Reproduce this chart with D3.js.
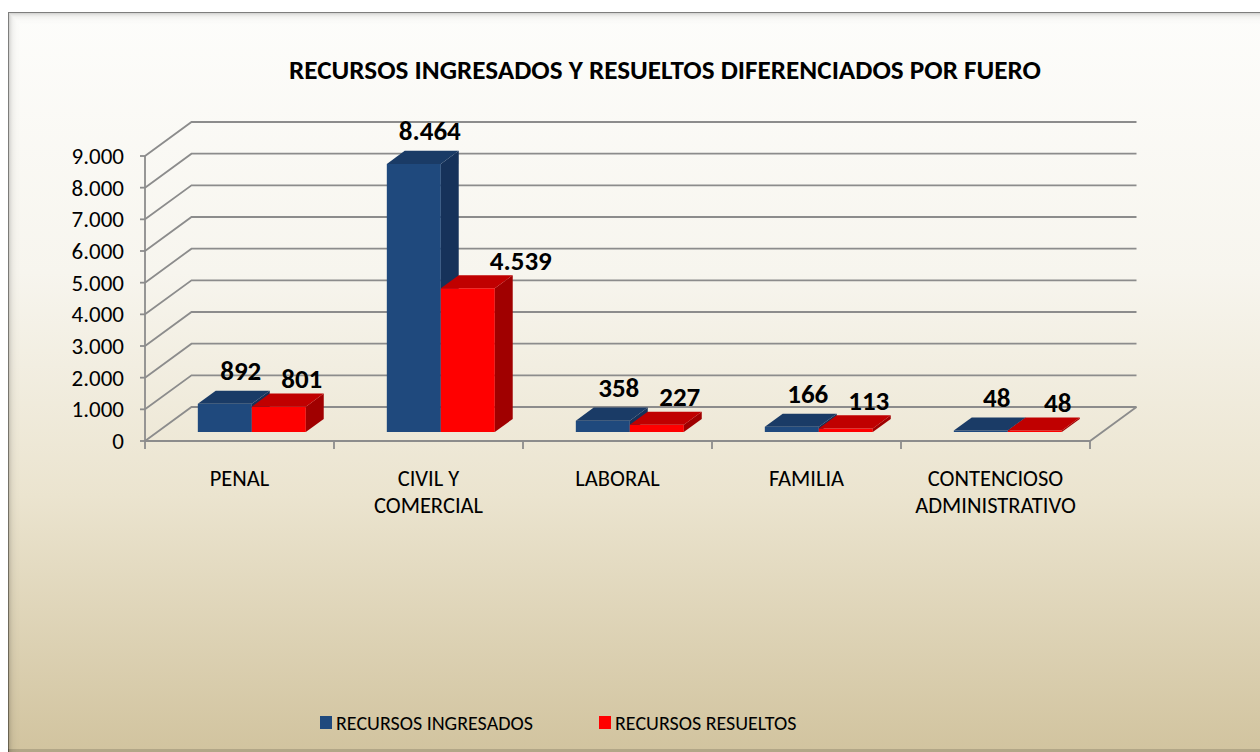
<!DOCTYPE html>
<html>
<head>
<meta charset="utf-8">
<script src="https://cdn.jsdelivr.net/npm/d3@7"></script>
<style>
  html, body { margin: 0; padding: 0; background: #fff; }
  svg { display: block; }
  text { font-family: Carlito, Lato, "Open Sans", sans-serif; fill: #000; }
</style>
</head>
<body>
<svg id="chart"></svg>
<script>
const categories = [["PENAL"], ["CIVIL Y", "COMERCIAL"], ["LABORAL"], ["FAMILIA"], ["CONTENCIOSO", "ADMINISTRATIVO"]];
const seriesNames = ["RECURSOS INGRESADOS", "RECURSOS RESUELTOS"];
const ingresados = [892, 8464, 358, 166, 48];
const resueltos = [801, 4539, 227, 113, 48];
const yTicks = [0, 1000, 2000, 3000, 4000, 5000, 6000, 7000, 8000, 9000];
const title = "RECURSOS INGRESADOS Y RESUELTOS DIFERENCIADOS POR FUERO";

const W = 1260, H = 752;
const svg = d3.select('#chart').attr('width', W).attr('height', H);
const defs = svg.append('defs');

// background gradient
const bg = defs.append('linearGradient').attr('id', 'bg').attr('x1', 0).attr('y1', 0).attr('x2', 0).attr('y2', 1);
bg.append('stop').attr('offset', '0%').attr('stop-color', '#fdfdfb');
bg.append('stop').attr('offset', '35%').attr('stop-color', '#f7f5ee');
bg.append('stop').attr('offset', '65%').attr('stop-color', '#ebe4cf');
bg.append('stop').attr('offset', '100%').attr('stop-color', '#d1c39e');

const fx = 8, fy = 12;
svg.append('rect').attr('x', fx).attr('y', fy).attr('width', W - fx + 4).attr('height', H - fy + 4)
  .attr('fill', 'url(#bg)');

// inner shadow of the frame
const shade = d3.range(0, 12);
svg.selectAll('rect.shade').data(shade).enter().append('rect')
  .attr('class', 'shade')
  .attr('x', d => fx + d + 0.5).attr('y', d => fy + d + 0.5)
  .attr('width', d => W - fx - d + 10).attr('height', d => H - fy - d + 10)
  .attr('fill', 'none')
  .attr('stroke', '#000')
  .attr('stroke-opacity', d => d === 0 ? 0.5 : 0.22 * Math.pow(0.7, d));
// bottom shadow
svg.append('rect').attr('x', fx).attr('y', H - 3).attr('width', W).attr('height', 3)
  .attr('fill', '#000').attr('fill-opacity', 0.15);

// 3D projection
const DX = 46.5, DY = 34;
const x0 = d3.scaleBand().domain(d3.range(categories.length)).range([145, 1090]);
const x1 = d3.scaleBand().domain([0, 1]).range([0, x0.bandwidth()]).paddingOuter(0.75);
const y = d3.scaleLinear().domain([0, 9000]).range([441, 156]);
const proj = (xs, v, z) => [xs + z * DX, y(v) - z * DY];

const g = svg.append('g');
const gridColor = '#8c8c8c';

// back wall gridlines and side wall
yTicks.forEach(t => {
  const a = proj(145, t, 0), b = proj(145, t, 1), c = proj(1090, t, 1);
  g.append('path').attr('d', d3.line()([a, b, c]))
    .attr('fill', 'none').attr('stroke', gridColor).attr('stroke-width', 1.8);
});
// floor
const f1 = proj(145, 0, 0), f2 = proj(1090, 0, 0), f3 = proj(1090, 0, 1);
g.append('path').attr('d', d3.line()([f1, f2, f3]))
  .attr('fill', 'none').attr('stroke', gridColor).attr('stroke-width', 1.8);
// value axis
g.append('line').attr('x1', 145).attr('x2', 145).attr('y1', y(9000)).attr('y2', y(0))
  .attr('stroke', gridColor).attr('stroke-width', 1.8);
g.selectAll('line.ytick').data(yTicks).enter().append('line')
  .attr('x1', 140).attr('x2', 145).attr('y1', d => y(d)).attr('y2', d => y(d))
  .attr('stroke', gridColor).attr('stroke-width', 1.8);
g.selectAll('text.ylab').data(yTicks).enter().append('text')
  .attr('x', 124).attr('y', d => y(d)).attr('dy', '0.35em')
  .attr('text-anchor', 'end').attr('font-size', 23)
  .text(d => d3.format(',')(d).replace(/,/g, '.'));
// category ticks
g.selectAll('line.xtick').data(d3.range(categories.length + 1)).enter().append('line')
  .attr('x1', i => 145 + i * x0.step()).attr('x2', i => 145 + i * x0.step())
  .attr('y1', 441).attr('y2', 449)
  .attr('stroke', gridColor).attr('stroke-width', 1.8);
// category labels
categories.forEach((lines, i) => {
  const t = g.append('text').attr('text-anchor', 'middle').attr('font-size', 22.5);
  lines.forEach((l, j) => {
    t.append('tspan').attr('x', x0(i) + x0.bandwidth() / 2).attr('y', 478 + j * 27).attr('dy', '0.35em').text(l);
  });
});

// bars
const colors = [
  { front: '#1f497d', top: '#1a3b66', side: '#16325a' },
  { front: '#ff0000', top: '#c00000', side: '#a00000' }
];
const zF = 0.265, zB = 0.65;
const bars = [];
categories.forEach((c, i) => {
  [ingresados[i], resueltos[i]].forEach((v, s) => bars.push({ i, s, v }));
});
const line = d3.line();
const bg2 = g.selectAll('g.bar').data(bars).enter().append('g').attr('class', 'bar');
bg2.append('path') // front
  .attr('d', d => {
    const xl = x0(d.i) + x1(d.s), xr = xl + x1.bandwidth();
    return line([proj(xl, 0, zF), proj(xr, 0, zF), proj(xr, d.v, zF), proj(xl, d.v, zF)]) + 'Z';
  })
  .attr('fill', d => colors[d.s].front);
bg2.append('path') // side
  .attr('d', d => {
    const xr = x0(d.i) + x1(d.s) + x1.bandwidth();
    return line([proj(xr, 0, zF), proj(xr, 0, zB), proj(xr, d.v, zB), proj(xr, d.v, zF)]) + 'Z';
  })
  .attr('fill', d => colors[d.s].side);
bg2.append('path') // top
  .attr('d', d => {
    const xl = x0(d.i) + x1(d.s), xr = xl + x1.bandwidth();
    return line([proj(xl, d.v, zF), proj(xr, d.v, zF), proj(xr, d.v, zB), proj(xl, d.v, zB)]) + 'Z';
  })
  .attr('fill', d => colors[d.s].top);

// value labels
const labelShift = [{ dx: 7, dy: -20 }, { dx: 14, dy: -15 }];
g.selectAll('text.vlab').data(bars).enter().append('text')
  .attr('x', d => x0(d.i) + x1(d.s) + x1.bandwidth() / 2 + (zF + zB) / 2 * DX + labelShift[d.s].dx + (d.v > 4000 && d.s === 1 ? 30 : 0))
  .attr('y', d => proj(0, d.v, zB)[1] + labelShift[d.s].dy)
  .attr('dy', '0.35em')
  .attr('text-anchor', 'middle').attr('font-size', 27).attr('font-weight', 'bold')
  .text(d => d3.format(',')(d.v).replace(/,/g, '.'));

// title
svg.append('text').attr('x', 665).attr('y', 70).attr('dy', '0.35em')
  .attr('text-anchor', 'middle').attr('font-size', 26).attr('font-weight', 'bold')
  .attr('textLength', 752).attr('lengthAdjust', 'spacingAndGlyphs')
  .text(title);

// legend
const legendX = [320, 599];
const lg = svg.selectAll('g.legend').data(seriesNames).enter().append('g').attr('class', 'legend')
  .attr('transform', (d, i) => `translate(${legendX[i]},716)`);
lg.append('rect').attr('width', 12).attr('height', 13).attr('fill', (d, i) => colors[i].front);
lg.append('text').attr('x', 16).attr('y', 6.5).attr('dy', '0.35em').attr('font-size', 20).text(d => d);
</script>
</body>
</html>
